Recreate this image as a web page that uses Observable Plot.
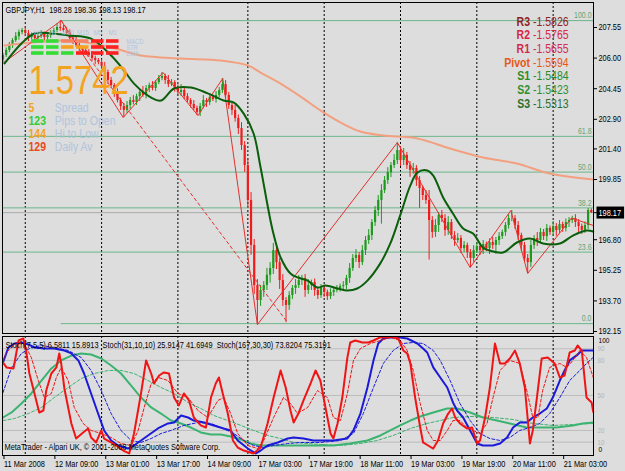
<!DOCTYPE html>
<html><head><meta charset="utf-8">
<script src="https://cdn.jsdelivr.net/npm/d3@7"></script>
<script src="https://cdn.jsdelivr.net/npm/@observablehq/plot@0.6"></script>
<style>
html,body{margin:0;padding:0;background:#dddddd;}
#chart{position:relative;width:625px;height:471px;background:#dddddd;overflow:hidden;}
#chart svg{position:absolute;left:0;}
</style></head><body><div id="chart"></div>
<script>
// ---------- DATA ----------
const header = "GBPJPY,H1  198.28 198.36 198.13 198.17";
const firstOpen = 205.90;
const closes = [
206.13,206.39,206.64,206.89,207.09,207.30,207.40,207.25,207.04,207.15,
206.99,207.09,207.20,207.04,207.15,207.30,207.40,207.55,207.50,207.40,
207.25,206.99,206.89,206.64,206.49,206.39,206.28,206.13,205.98,205.88,
205.78,205.58,205.27,204.87,204.61,204.26,203.85,203.55,203.35,203.60,
203.85,203.75,204.05,204.26,204.11,204.46,204.61,204.46,204.76,204.97,
205.07,204.87,204.66,204.76,204.46,204.26,204.36,204.05,203.85,203.65,
203.45,203.24,203.55,203.85,203.75,204.00,203.90,204.11,204.36,204.66,
204.11,203.60,203.35,202.94,202.43,201.57,200.56,198.79,196.51,194.48,
193.72,194.23,194.48,195.00,195.34,196.25,195.64,194.73,193.72,193.47,
193.97,194.33,194.48,194.73,194.84,194.23,194.48,194.63,194.23,193.97,
194.33,194.13,193.92,194.13,194.23,194.33,194.43,194.48,194.84,195.34,
195.85,196.00,195.64,196.25,196.76,197.01,197.67,198.28,198.79,199.29,
199.80,200.20,200.56,200.81,201.32,200.81,201.07,200.56,200.31,200.41,
199.80,199.39,199.04,198.79,197.77,197.17,197.52,198.03,197.87,197.27,
197.67,197.01,196.76,196.86,196.35,196.51,196.15,195.85,196.25,196.46,
196.25,196.56,196.35,196.66,196.51,196.76,196.96,197.17,197.52,197.87,
197.87,197.52,197.01,196.51,195.85,195.64,196.51,196.86,196.76,197.17,
196.96,197.37,197.17,197.47,197.27,197.57,197.37,197.67,197.77,197.87,
197.67,197.47,197.27,197.52,198.28,198.17];
const wickUp = [
.10,.12,.15,.10,.20,.12,.10,.18,.15,.12,
.15,.10,.20,.12,.15,.10,.12,.20,.35,.15,
.12,.18,.10,.15,.20,.12,.10,.15,.18,.12,
.10,.15,.20,.12,.15,.10,.18,.12,.15,.20,
.15,.25,.12,.10,.30,.15,.12,.20,.10,.15,
.20,.12,.25,.15,.10,.18,.30,.12,.15,.10,
.20,.12,.15,.25,.10,.18,.12,.20,.15,.31,
.20,.15,.12,.25,.18,.30,.20,.35,.40,.30,
.30,.25,.20,.35,.30,.36,.25,.20,.30,.15,
.20,.15,.30,.25,.15,.20,.30,.12,.18,.15,
.20,.15,.12,.18,.10,.15,.12,.20,.15,.25,
.20,.30,.15,.25,.20,.30,.15,.20,.25,.30,
.20,.25,.15,.30,.40,.20,.35,.15,.20,.25,
.15,.20,.12,.25,.50,.20,.30,.15,.25,.20,
.30,.15,.20,.25,.15,.20,.12,.15,.25,.20,
.15,.20,.12,.18,.25,.15,.20,.12,.15,.20,
.41,.15,.20,.12,.15,.20,.25,.15,.30,.20,
.15,.20,.12,.25,.15,.20,.12,.18,.15,.12,
.20,.15,.12,.18,.10,.08];
const wickDn = [
.15,.10,.12,.15,.10,.18,.12,.15,.20,.10,
.12,.15,.10,.18,.12,.15,.10,.12,.15,.10,
.15,.12,.20,.10,.15,.18,.12,.10,.15,.20,
.12,.15,.10,.20,.15,.25,.12,.20,.36,.15,
.20,.12,.15,.25,.10,.18,.20,.12,.15,.10,
.12,.20,.15,.10,.18,.12,.20,.15,.10,.18,
.12,.15,.20,.12,.25,.15,.10,.18,.12,.15,
.15,.20,.25,.18,.30,.25,.35,.40,.50,.45,
1.22,.30,.35,.25,.40,.30,.35,.45,.30,.87,
.25,.20,.30,.15,.25,.35,.20,.25,.30,.20,
.15,.25,.20,.15,.20,.12,.18,.15,.20,.25,
.15,.20,.30,.15,.25,.20,.25,.20,.30,1.20,
.15,.20,.25,.15,.20,.30,.25,.20,.35,.20,
.30,1.00,.25,.20,2.00,.30,.25,.35,.20,.30,
.25,.20,.30,.15,.25,.20,.30,.46,.20,.15,
.25,.20,.15,.30,.20,.45,.25,.15,.20,.18,
.15,.20,.25,.30,.20,.55,.25,.20,.30,.15,
.20,.25,.15,.20,.30,.15,.20,.18,.25,.15,
.25,.30,.20,.15,.20,.04];

const timeLabels = ["11 Mar 2008","12 Mar 09:00","13 Mar 01:00","13 Mar 17:00","14 Mar 09:00","17 Mar 03:00","17 Mar 19:00","18 Mar 11:00","19 Mar 03:00","19 Mar 19:00","20 Mar 11:00","21 Mar 03:00"];
const labelBars = [0,16,32,48,64,80,96,112,128,144,160,176];
const daySeparatorBars = [7,31,55,77,101,125,149,173];
const priceTicks = [207.55,206.00,204.45,202.90,201.40,199.85,196.80,195.25,193.70,192.15];
const bidPrice = 198.17;

const fibLow = 192.55, fibHigh = 207.90, fibStartBar = 18.3;
const fibRatios = [0, 23.6, 38.2, 50, 61.8, 100];
const fibAnchored = [true, false, false, false, false, true];

const maFast = [[0.5,205.73],[5.8,206.74],[9.9,207.25],[15.2,207.25],[20.5,207.15],[27.7,206.99],[34.0,206.13],[38.1,205.37],[41.2,204.71],[46.6,204.00],[49.7,203.85],[53.8,204.46],[59.1,204.51],[64.4,204.21],[69.4,203.85],[72.6,203.75],[75.7,203.19],[78.8,202.18],[81.0,200.46],[84.8,197.27],[87.3,195.90],[90.4,195.09],[92.6,194.89],[95.8,194.73],[98.9,194.38],[101.4,194.48],[105.2,194.33],[108.3,194.23],[111.4,194.33],[114.6,194.73],[118.6,195.59],[121.8,196.61],[124.9,198.03],[128.1,199.55],[130.3,200.20],[133.4,200.31],[135.3,200.05],[138.4,198.94],[141.5,198.13],[144.7,197.37],[147.8,197.11],[150.9,196.41],[153.1,196.25],[157.2,196.15],[161.6,196.66],[165.7,196.86],[169.8,196.61],[175.1,196.61],[179.2,197.01],[183.5,197.27],[185.6,197.22]];
const maSlow = [[0.5,206.64],[8.9,206.79],[20.5,206.89],[34.0,206.54],[43.4,206.13],[56.0,205.98],[68.5,205.88],[77.0,205.63],[81.0,205.27],[87.3,204.71],[93.6,204.05],[99.8,203.35],[106.1,202.74],[112.4,202.28],[119.6,202.08],[130.3,201.93],[140.6,201.42],[150.9,200.97],[161.6,200.66],[171.9,200.15],[185.6,199.85]];
const zigzag = [[0.3,205.78],[18.3,207.90],[37.8,202.99],[50.3,205.27],[61.3,203.09],[69.1,204.97],[80.0,192.50],[124.0,201.72],[146.9,195.39],[159.7,198.28],[165.0,195.09],[178.8,197.90],[185.6,197.52]];
const fiboTrend = [[18.3,207.90],[89.5,192.60]];

const pivotNames = ["R3","R2","R1","Pivot","S1","S2","S3"];
const pivotValues = ["-1.5826","-1.5765","-1.5655","-1.5594","-1.5484","-1.5423","-1.5313"];
const bigValue = "1.5742";
const spreadValues = ["5","123","144","129"];
const spreadNames = ["Spread","Pips to Open","Hi to Low","Daily Av"];
const timeframes = ["H4","H1","M30","M15","M5","M1"];
const signalNames = ["MACD","STR","EMA"];
const signalMACD = ["buy","buy","weak","weak","sell","sell"];
const signalSTR  = ["buy","buy","flat","flat","sell","sell"];
const signalEMA  = ["buy","buy","buy","sell","sell","sell"];

const stochLabel = "Stoch(7,5,5) 6.5811 15.8913  Stoch(31,10,10) 25.9147 41.6949  Stoch(167,30,30) 73.8204 75.3191";
const copyright = "MetaTrader - Alpari UK, \u00a9 2001-2008 MetaQuotes Software Corp.";
const stochLevels = [10,20,50,80,90];
const stochFast = [[0,78.2],[1.1,74.0],[3.3,73.1],[4.9,97.1],[6.4,98.8],[7.4,86.0],[8.3,68.8],[9.9,51.7],[11.4,35.4],[12.7,37.1],[13.6,54.2],[15.2,68.8],[16.8,74.0],[17.7,86.0],[18.3,77.4],[19.3,56.0],[21.5,26.0],[23.0,13.1],[25.2,18.3],[26.8,21.7],[27.7,14.0],[29.3,9.7],[30.9,20.0],[31.8,13.1],[34.0,9.7],[35.6,7.1],[37.8,2.8],[39.7,0.3],[41.2,17.4],[43.4,51.7],[45.0,80.0],[46.6,68.8],[47.5,60.2],[49.1,67.1],[50.6,69.7],[52.2,68.8],[53.8,48.2],[55.3,41.4],[56.9,51.7],[58.5,45.7],[60.0,31.1],[62.2,24.3],[63.8,22.5],[65.4,48.2],[66.9,60.2],[67.9,65.4],[69.1,51.7],[70.7,34.5],[72.3,11.4],[73.8,5.4],[75.7,2.8],[78.8,0.3],[81.0,5.4],[83.2,26.0],[85.1,48.2],[87.3,71.4],[88.9,56.8],[90.4,37.1],[91.4,26.8],[92.9,34.5],[94.5,45.7],[96.7,60.2],[98.3,71.4],[99.8,62.8],[101.4,39.7],[103.0,17.4],[103.9,13.1],[105.2,26.0],[106.7,48.2],[108.3,82.6],[109.2,95.4],[110.8,97.1],[113.0,95.4],[114.9,95.4],[116.5,97.1],[118.6,99.7],[120.9,100],[122.7,100],[124.3,98.8],[125.9,88.5],[127.1,86.0],[128.1,77.4],[129.6,48.2],[131.2,22.5],[132.1,9.7],[133.7,7.1],[135.3,4.5],[136.8,11.4],[138.4,26.0],[140.0,34.5],[141.2,38.8],[142.2,31.1],[143.7,26.0],[145.9,21.7],[147.5,22.5],[149.1,8.8],[150.0,11.4],[151.6,31.1],[153.1,56.8],[154.7,94.5],[156.3,77.4],[157.8,77.4],[159.4,81.7],[161.0,88.5],[162.5,77.4],[164.1,56.8],[165.7,8.8],[166.6,20.0],[167.9,48.2],[169.4,81.7],[171.3,82.6],[173.5,77.4],[175.1,65.4],[176.6,67.1],[178.2,86.8],[179.8,88.5],[180.7,92.8],[182.0,88.5],[183.5,48.2],[185.1,44.0],[185.6,36.0]];
const stochFastSignal = [[0,80.0],[1.1,87.0],[4.2,95.4],[6.7,94.5],[8.9,82.5],[11.1,62.8],[13.0,48.2],[15.2,51.7],[16.8,65.5],[18.3,74.0],[20.5,62.8],[22.4,39.7],[25.2,26.0],[27.7,20.0],[30.9,17.4],[34.0,14.0],[37.1,8.8],[40.3,7.1],[42.5,20.0],[44.4,39.7],[46.6,60.2],[48.7,65.5],[51.9,62.8],[55.0,51.7],[58.2,48.2],[61.3,37.1],[64.4,31.1],[67.6,45.7],[69.4,48.2],[71.6,34.5],[73.8,17.4],[77.0,7.1],[80.1,4.5],[82.0,11.4],[85.1,31.1],[88.2,48.2],[90.4,43.1],[92.6,34.5],[95.8,39.7],[98.9,54.2],[102.0,48.2],[103.9,31.1],[106.1,28.5],[108.3,51.7],[110.2,80.0],[112.4,90.2],[115.5,94.5],[118.7,97.1],[121.8,99.7],[124.9,97.1],[127.1,88.5],[129.0,71.4],[131.2,43.1],[133.4,20.0],[135.3,11.4],[137.5,11.4],[139.7,20.0],[141.5,28.5],[143.7,28.5],[145.9,22.5],[147.8,20.0],[150.0,17.4],[152.2,26.0],[154.1,48.2],[156.3,71.4],[159.4,80.0],[162.5,77.4],[164.7,54.2],[166.6,31.1],[168.2,31.1],[169.7,54.2],[171.9,74.0],[175.1,77.4],[177.3,74.0],[179.2,80.0],[181.4,88.5],[183.5,82.6],[185.6,65.5]];
const stochMid = [[0,78.2],[1.7,91.1],[3.6,94.5],[5.8,95.4],[8.0,93.7],[9.9,91.1],[13.0,90.2],[16.1,90.2],[19.3,88.5],[21.5,86.0],[23.7,80.0],[25.5,68.8],[27.7,51.7],[29.9,34.5],[31.8,20.0],[34.0,11.4],[36.2,7.1],[39.3,4.5],[41.2,7.1],[43.4,11.4],[45.6,15.7],[48.7,21.7],[51.9,26.0],[53.8,26.8],[56.0,32.8],[58.2,31.1],[60.0,28.5],[63.2,26.8],[66.3,24.3],[69.4,21.7],[71.6,20.0],[73.8,11.4],[77.0,4.5],[79.5,0.3],[81.0,2.8],[83.2,7.1],[86.4,9.7],[89.5,13.1],[91.4,14.0],[94.5,13.1],[97.6,11.4],[103.9,11.4],[108.3,13.1],[110.2,20.0],[112.4,34.5],[114.6,56.8],[116.5,80.0],[118.0,94.5],[119.6,98.8],[121.8,99.7],[124.9,99.7],[127.1,98.8],[130.3,94.5],[132.1,90.2],[133.4,86.8],[135.3,74.0],[137.5,65.4],[139.7,56.8],[141.5,44.0],[142.8,37.1],[144.7,31.1],[146.9,20.0],[149.1,8.8],[150.9,7.1],[154.1,7.1],[156.3,8.8],[158.5,14.0],[160.4,22.5],[162.5,26.8],[164.7,26.8],[166.6,31.1],[168.8,34.5],[171.0,38.8],[172.9,48.2],[175.1,62.8],[176.6,71.4],[178.2,80.0],[180.4,84.3],[182.0,88.5],[185.6,88.5]];
const stochMidSignal = [[0,52.5],[2.7,74.0],[5.8,86.0],[8.9,91.1],[12.1,92.8],[16.1,91.1],[20.5,88.5],[24.6,82.5],[27.7,71.4],[30.9,54.2],[34.0,34.5],[37.1,20.0],[40.3,11.4],[43.4,9.7],[46.6,13.1],[49.7,17.4],[52.8,20.0],[56.9,24.3],[61.3,26.8],[65.4,26.0],[68.5,22.5],[72.6,17.4],[75.7,11.4],[78.8,7.1],[82.0,5.4],[85.1,7.1],[89.5,8.8],[93.6,9.7],[99.8,9.7],[106.1,11.4],[110.2,17.4],[113.3,34.5],[116.5,56.8],[119.6,77.4],[122.7,88.5],[125.9,94.5],[129.0,95.4],[132.1,94.5],[135.3,88.5],[137.5,80.0],[140.6,62.8],[143.7,43.1],[146.9,28.5],[150.0,17.4],[153.1,13.1],[156.3,11.4],[159.4,14.0],[162.5,20.0],[165.7,22.5],[168.8,26.0],[171.9,34.5],[175.1,48.2],[178.2,62.8],[181.4,71.4],[183.5,77.4],[185.6,82.6]];
const stochSlow = [[0,31.1],[2.7,35.4],[5.8,43.1],[8.9,51.7],[12.1,62.8],[15.2,73.1],[18.3,80.0],[21.5,84.2],[24.6,86.0],[27.7,85.1],[30.9,81.7],[34.0,75.7],[37.1,68.8],[40.3,58.5],[43.4,48.2],[46.6,39.7],[49.7,34.5],[52.8,28.5],[56.0,26.0],[59.1,22.5],[62.2,18.3],[65.4,16.5],[68.5,16.5],[71.6,14.8],[74.8,12.3],[77.9,8.8],[81.0,7.1],[93.6,7.1],[103.9,7.1],[109.2,8.8],[114.6,11.4],[118.7,15.7],[121.8,20.0],[124.9,24.3],[128.1,28.5],[131.2,32.0],[135.3,35.4],[139.7,38.8],[142.8,38.8],[146.9,35.4],[150.9,31.1],[155.3,28.5],[159.4,26.0],[164.7,22.5],[168.8,22.5],[174.1,22.5],[179.2,24.3],[182.3,26.0],[185.6,26.8]];
const stochSlowSignal = [[0,28.5],[3.6,30.2],[8.0,34.5],[12.1,39.7],[16.1,48.2],[20.5,56.8],[24.6,64.5],[28.7,68.8],[33.1,71.4],[37.1,71.4],[41.2,68.8],[45.6,62.8],[49.7,56.8],[53.8,51.7],[58.2,44.0],[62.2,38.8],[66.3,32.8],[70.7,28.5],[74.8,24.3],[78.8,20.0],[83.2,15.7],[87.3,13.1],[91.4,9.7],[95.8,8.8],[99.8,8.0],[106.1,7.1],[112.4,8.8],[117.7,11.4],[122.7,15.7],[128.1,21.7],[133.4,26.0],[137.5,28.5],[141.5,31.1],[147.8,32.0],[154.1,31.1],[160.4,29.4],[166.6,26.0],[172.9,24.3],[179.2,25.1],[185.6,26.0]];

// ---------- STYLE ----------
const FONT = "'Liberation Sans', Arial, Helvetica, sans-serif";
const UP = "#1c9a1c", DN = "#f01c1c";
const MA_FAST = "#0b5e0b", MA_SLOW = "#f2a07f", ZZ = "#e4302c";
const FIB_LINE = "#6cb68a", FIB_TEXT = "#5ea678";
const LBLUE = "#b0c4de";
const pivotColors = ["#8e2222","#d62646","#cf2c4e","#e65816","#2a8c2a","#2f8f2f","#2c6e2c"];
const spreadColors = ["#f4a31f","#33cc33","#f4a31f","#e84a1a"];
const signalColors = {buy: "#33dd33", sell: "#ff2020", weak: "#f48464", flat: "#f4a21f"};
const ST_RED = "#f01414", ST_BLUE = "#1a1ad8", ST_GREEN = "#3cb371";

// ---------- DERIVED TABLES ----------
const xDomain = [-0.157, 185.69];
const bars = closes.map((c, i) => {
  const open = i === 0 ? firstOpen : closes[i - 1];
  const top = Math.max(open, c), bot = Math.min(open, c);
  return {i, open, close: c, high: top + wickUp[i], low: bot - wickDn[i], up: c >= open};
});
const fibRows = fibRatios.map((r, k) => ({
  label: r.toFixed(1), price: fibLow + r / 100 * (fibHigh - fibLow), from: fibAnchored[k] ? fibStartBar : null
}));
const signalCells = [];
[signalMACD, signalSTR, signalEMA].forEach((row, k) => row.forEach((s, j) =>
  signalCells.push({tf: timeframes[j], ind: signalNames[k], sig: s})));

const candleColor = d => d.up ? UP : DN;
const txt = {fontFamily: FONT};

// ---------- MAIN PRICE PANEL ----------
const mainPlot = Plot.plot({
  width: 625, height: 336,
  marginLeft: 2, marginRight: 32, marginTop: 2, marginBottom: 3,
  style: {background: "transparent", fontFamily: FONT, overflow: "visible", color: "#000"},
  x: {domain: xDomain, axis: null},
  y: {domain: [192.049, 208.817]},
  marks: [
    Plot.ruleX(daySeparatorBars, {stroke: "#000", strokeDasharray: "2,2"}),
    Plot.ruleY(fibRows.filter(d => d.from === null), {y: "price", stroke: FIB_LINE}),
    Plot.ruleY(fibRows.filter(d => d.from !== null), {y: "price", x1: "from", x2: () => xDomain[1], stroke: FIB_LINE}),
    Plot.ruleY([bidPrice], {stroke: "#a9a9a9"}),
    Plot.ruleX(bars, {x: "i", y1: "low", y2: "high", stroke: candleColor, strokeWidth: 1}),
    Plot.ruleX(bars, {x: "i", y1: "open", y2: "close", stroke: candleColor, strokeWidth: 2.2}),
    Plot.line(maSlow, {stroke: MA_SLOW, strokeWidth: 2, curve: "catmull-rom"}),
    Plot.line(zigzag, {stroke: ZZ, strokeWidth: 1}),
    Plot.line(fiboTrend, {stroke: ZZ, strokeWidth: 1, strokeDasharray: "3,3"}),
    Plot.line(maFast, {stroke: MA_FAST, strokeWidth: 2, curve: "catmull-rom"}),
    Plot.text(fibRows, {frameAnchor: "right", y: "price", text: "label", textAnchor: "end", dx: -2, dy: -5, fill: FIB_TEXT, fontSize: 8.5, ...txt}),
    Plot.frame({stroke: "#000"}),
    Plot.axisY({anchor: "right", ticks: priceTicks, tickFormat: d => d.toFixed(2), tickSize: 3, tickPadding: 2, fontSize: 9, label: null}),
    Plot.axisY({anchor: "right", ticks: [bidPrice], tickFormat: d => d.toFixed(2), tickSize: 3, tickPadding: 2, fontSize: 9, label: null}),
    Plot.text([header], {frameAnchor: "top-left", text: d => d, dx: 3, dy: 8, textAnchor: "start", lineAnchor: "middle", fill: "#000", fontSize: 9, ...txt}),
    Plot.text([bigValue], {frameAnchor: "top-left", text: d => d, dx: 26, dy: 78.5, textAnchor: "start", lineAnchor: "middle", fill: "#f4a31f", fontSize: 40, ariaLabel: "bignum", ...txt}),
    ...spreadValues.map((v, k) => Plot.text([v], {frameAnchor: "top-left", text: d => d, dx: 26, dy: 105 + k * 13.1, textAnchor: "start", lineAnchor: "middle", fill: spreadColors[k], fontSize: 12.8, fontWeight: "bold", ariaLabel: "spreadnum", ...txt})),
    ...spreadNames.map((v, k) => Plot.text([v], {frameAnchor: "top-left", text: d => d, dx: 52.3, dy: 105 + k * 13.1, textAnchor: "start", lineAnchor: "middle", fill: LBLUE, fontSize: 12.8, ariaLabel: "spreadlabel", ...txt})),
    ...pivotNames.map((v, k) => Plot.text([v], {frameAnchor: "top-right", text: d => d, dx: -63.5, dy: 19 + k * 13.7, textAnchor: "end", lineAnchor: "middle", fill: pivotColors[k], fontSize: 12.8, fontWeight: "bold", ...txt})),
    ...pivotValues.map((v, k) => Plot.text([v], {frameAnchor: "top-right", text: d => d, dx: -60.5, dy: 19 + k * 13.7, textAnchor: "start", lineAnchor: "middle", fill: pivotColors[k], fontSize: 12.8, ariaLabel: "pivotvalue", ...txt}))
  ]
});

// ---------- SIGNAL DASHBOARD ----------
const dashPlot = Plot.plot({
  width: 160, height: 62,
  marginLeft: 28, marginRight: 39, marginTop: 37.2, marginBottom: 4.8,
  style: {background: "transparent", fontFamily: FONT, overflow: "visible"},
  x: {type: "band", domain: timeframes, padding: 0},
  y: {type: "band", domain: signalNames, padding: 0},
  marks: [
    Plot.cell(signalCells, {x: "tf", y: "ind", fill: d => signalColors[d.sig], insetLeft: 1, insetRight: 1.5, insetTop: 1.2, insetBottom: 1.2}),
    Plot.axisX({anchor: "top", tickSize: 0, tickPadding: 3, color: LBLUE, fontSize: 7.5, label: null}),
    Plot.axisY({anchor: "right", tickSize: 0, tickPadding: 5, color: LBLUE, fontSize: 7, label: null, textAnchor: "start"})
  ]
});

// ---------- STOCHASTIC PANEL ----------
const stochPlot = Plot.plot({
  width: 625, height: 135,
  marginLeft: 2, marginRight: 32, marginTop: 0, marginBottom: 16,
  style: {background: "transparent", fontFamily: FONT, overflow: "visible", color: "#000"},
  x: {domain: xDomain},
  y: {domain: [-1.46, 100.51]},
  marks: [
    Plot.ruleY(stochLevels, {stroke: "#bdbdbd"}),
    Plot.ruleX(daySeparatorBars, {stroke: "#000", strokeDasharray: "2,2"}),
    Plot.line(stochSlowSignal, {stroke: ST_GREEN, strokeWidth: 1, strokeDasharray: "3,2"}),
    Plot.line(stochSlow, {stroke: ST_GREEN, strokeWidth: 2}),
    Plot.line(stochMidSignal, {stroke: ST_BLUE, strokeWidth: 1, strokeDasharray: "3,2"}),
    Plot.line(stochMid, {stroke: ST_BLUE, strokeWidth: 2}),
    Plot.line(stochFastSignal, {stroke: ST_RED, strokeWidth: 1, strokeDasharray: "3,2"}),
    Plot.line(stochFast, {stroke: ST_RED, strokeWidth: 2}),
    Plot.frame({stroke: "#000"}),
    Plot.axisX({ticks: labelBars, tickFormat: d => timeLabels[labelBars.indexOf(d)], tickSize: 4, tickPadding: 1, textAnchor: "start", dx: 1, fontSize: 9, label: null}),
    Plot.axisY({anchor: "right", ticks: [100], tickFormat: d => String(d), tickSize: 0, tickPadding: 5, dy: 3, fontSize: 8, label: null}),
    Plot.axisY({anchor: "right", ticks: [0], tickFormat: d => String(d), tickSize: 0, tickPadding: 5, dy: -4, fontSize: 8, label: null}),
    Plot.axisY({anchor: "right", ticks: stochLevels, tickFormat: d => String(d), tickSize: 0, tickPadding: 4, color: "#b4b4b4", fontSize: 7.5, label: null}),
    Plot.text([stochLabel], {frameAnchor: "top-left", text: d => d, dx: 3, dy: 9, textAnchor: "start", lineAnchor: "middle", fill: "#000", fontSize: 9, ...txt}),
    Plot.text([copyright], {frameAnchor: "bottom-left", text: d => d, dx: 2, dy: -8, textAnchor: "start", lineAnchor: "middle", fill: "#000", fontSize: 9, ...txt})
  ]
});

// ---------- ASSEMBLE ----------
const chart = document.getElementById("chart");
[[mainPlot, 0], [stochPlot, 336], [dashPlot, 0]].forEach(([svg, top]) => {
  svg.style.position = "absolute"; svg.style.top = top + "px"; svg.style.left = "0px";
  chart.appendChild(svg);
});

function squeeze(root, selector, f) {
  root.querySelectorAll(selector).forEach(t => {
    if (t.hasAttribute("textLength")) return;
    const w = t.getComputedTextLength();
    if (w > 0) { t.setAttribute("textLength", (w * f).toFixed(2)); t.setAttribute("lengthAdjust", "spacingAndGlyphs"); }
  });
}
squeeze(chart, 'g[aria-label="bignum"] text', 0.77);
squeeze(chart, 'g[aria-label="pivotvalue"] text', 0.7);
squeeze(chart, 'g[aria-label="spreadlabel"] text', 0.92);
squeeze(chart, 'g[aria-label="spreadnum"] text', 0.88);
squeeze(chart, 'text', 0.82);

// black box behind current bid label
mainPlot.querySelectorAll("text").forEach(t => {
  if (t.textContent === bidPrice.toFixed(2)) {
    const bb = t.getBBox();
    const r = document.createElementNS("http://www.w3.org/2000/svg", "rect");
    r.setAttribute("x", bb.x - 2); r.setAttribute("y", bb.y - 1);
    r.setAttribute("width", bb.width + 5); r.setAttribute("height", bb.height + 2);
    r.setAttribute("fill", "#000");
    if (t.getAttribute("transform")) r.setAttribute("transform", t.getAttribute("transform"));
    t.parentNode.insertBefore(r, t);
    t.setAttribute("fill", "#fff");
  }
});
</script></body></html>
